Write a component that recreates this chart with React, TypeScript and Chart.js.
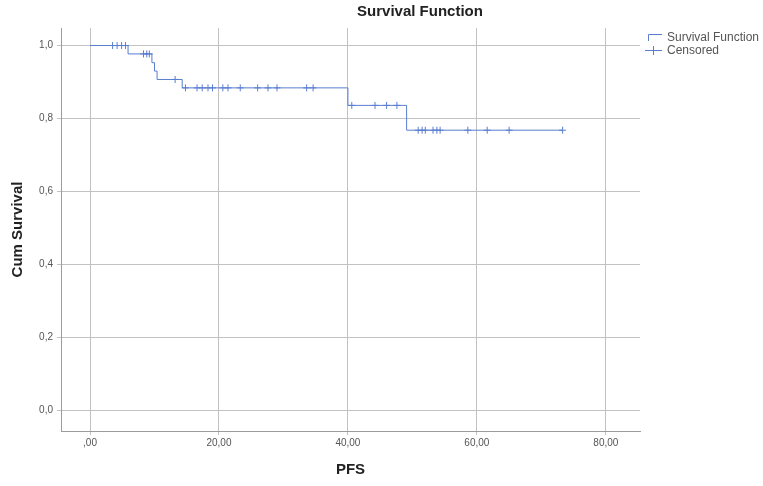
import React, { useEffect, useRef } from "react";
import { Chart, registerables } from "chart.js";

Chart.register(...registerables);

// Kaplan-Meier step data (time in PFS units, cumulative survival)
const eventTimes = [0, 5.9, 9.6, 10.0, 10.4, 14.3, 40.0, 49.1];
const survivalValues = [1.0, 0.977, 0.953, 0.93, 0.907, 0.884, 0.836, 0.768];
const lastFollowUp = 73.3;

// Censored observation times
const censorTimes = [
  3.5, 4.2, 4.9, 5.5, 8.3, 8.8, 9.2, 13.2, 14.8, 16.6, 17.4, 18.3, 19.0, 20.6,
  21.4, 23.3, 26.0, 27.6, 29.0, 33.6, 34.6, 40.6, 44.2, 46.0, 47.6, 50.9, 51.5,
  52.0, 53.2, 53.8, 54.3, 58.6, 61.6, 65.0, 73.3,
];

const xTickValues = [0, 20, 40, 60, 80];
const xTickLabels = [",00", "20,00", "40,00", "60,00", "80,00"];
const yTickValues = [0, 0.2, 0.4, 0.6, 0.8, 1.0];
const yTickLabels = ["0,0", "0,2", "0,4", "0,6", "0,8", "1,0"];

const chartTitle = "Survival Function";
const xTitle = "PFS";
const yTitle = "Cum Survival";
const legendLabels = ["Survival Function", "Censored"];

const LINE_COLOR = "#5a7ed0";
const GRID_COLOR = "#c2c2c2";
const AXIS_COLOR = "#9c9c9c";
const FONT = '"Liberation Sans", Arial, sans-serif';

function survivalAt(t: number): number {
  let s = survivalValues[0];
  for (let i = 0; i < eventTimes.length; i++) {
    if (eventTimes[i] <= t) s = survivalValues[i];
  }
  return s;
}

const decorPlugin = {
  id: "decor",
  afterDraw(chart: any) {
    const ctx = chart.ctx;
    ctx.save();
    // Title
    ctx.fillStyle = "#222";
    ctx.font = `bold 15px ${FONT}`;
    ctx.textAlign = "center";
    ctx.textBaseline = "middle";
    ctx.fillText(chartTitle, 420, 12);

    // Legend
    ctx.strokeStyle = LINE_COLOR;
    ctx.lineWidth = 1;
    ctx.beginPath();
    ctx.moveTo(648.5, 41);
    ctx.lineTo(648.5, 34.5);
    ctx.lineTo(662, 34.5);
    ctx.stroke();

    ctx.beginPath();
    ctx.moveTo(645, 50.5);
    ctx.lineTo(662, 50.5);
    ctx.moveTo(653.5, 46);
    ctx.lineTo(653.5, 55);
    ctx.stroke();

    ctx.fillStyle = "#555";
    ctx.font = `12px ${FONT}`;
    ctx.textAlign = "left";
    ctx.fillText(legendLabels[0], 667, 38);
    ctx.fillText(legendLabels[1], 667, 51);
    ctx.restore();
  },
};

export default function App() {
  const canvasRef = useRef<HTMLCanvasElement | null>(null);

  useEffect(() => {
    if (!canvasRef.current) return;
    const stepPoints = eventTimes.map((t, i) => ({ x: t, y: survivalValues[i] }));
    stepPoints.push({ x: lastFollowUp, y: survivalValues[survivalValues.length - 1] });
    const censorPoints = censorTimes.map((t) => ({ x: t, y: survivalAt(t) }));

    const chart = new Chart(canvasRef.current, {
      type: "scatter",
      data: {
        datasets: [
          {
            type: "line",
            label: legendLabels[0],
            data: stepPoints,
            stepped: true,
            borderColor: LINE_COLOR,
            borderWidth: 1,
            pointRadius: 0,
            fill: false,
          } as any,
          {
            type: "scatter",
            label: legendLabels[1],
            data: censorPoints,
            pointStyle: "cross",
            pointRadius: 3.5,
            borderColor: LINE_COLOR,
            backgroundColor: LINE_COLOR,
            borderWidth: 1,
          } as any,
        ],
      },
      options: {
        animation: false,
        responsive: false,
        maintainAspectRatio: false,
        layout: { padding: { left: 0, right: 123, top: 28, bottom: 0 } },
        plugins: {
          legend: { display: false },
          title: { display: false },
          tooltip: { enabled: false },
        },
        scales: {
          x: {
            type: "linear",
            min: -4.5,
            max: 85.3,
            afterBuildTicks: (s: any) => {
              s.ticks = xTickValues.map((v) => ({ value: v }));
            },
            afterFit: (s: any) => {
              s.height = 55;
            },
            ticks: {
              autoSkip: false,
              maxRotation: 0,
              padding: 2,
              color: "#555",
              font: { family: FONT, size: 10 },
              callback: (v: any) => {
                const i = xTickValues.indexOf(Number(v));
                return i >= 0 ? xTickLabels[i] : "";
              },
            },
            grid: { color: GRID_COLOR, tickLength: 4, lineWidth: 1 },
            border: { color: AXIS_COLOR },
            title: {
              display: true,
              text: xTitle,
              color: "#222",
              font: { family: FONT, size: 15, weight: "bold" },
              padding: { top: 0, bottom: 7 },
            },
          },
          y: {
            type: "linear",
            min: -0.056,
            max: 1.048,
            afterBuildTicks: (s: any) => {
              s.ticks = yTickValues.map((v) => ({ value: v }));
            },
            afterFit: (s: any) => {
              s.width = 61;
            },
            ticks: {
              autoSkip: false,
              padding: 4,
              color: "#555",
              font: { family: FONT, size: 10 },
              callback: (v: any) => {
                const i = yTickValues.findIndex((t) => Math.abs(t - Number(v)) < 1e-9);
                return i >= 0 ? yTickLabels[i] : "";
              },
            },
            grid: { color: GRID_COLOR, tickLength: 4, lineWidth: 1 },
            border: { color: AXIS_COLOR },
            title: {
              display: true,
              text: yTitle,
              color: "#222",
              font: { family: FONT, size: 15, weight: "bold" },
              padding: { top: 9, bottom: 0 },
            },
          },
        },
      } as any,
      plugins: [decorPlugin],
    });
    return () => chart.destroy();
  }, []);

  return (
    <div style={{ position: "absolute", left: 0, top: 0, width: 763, height: 486, background: "#fff" }}>
      <canvas ref={canvasRef} width={763} height={486} style={{ display: "block" }} />
    </div>
  );
}
